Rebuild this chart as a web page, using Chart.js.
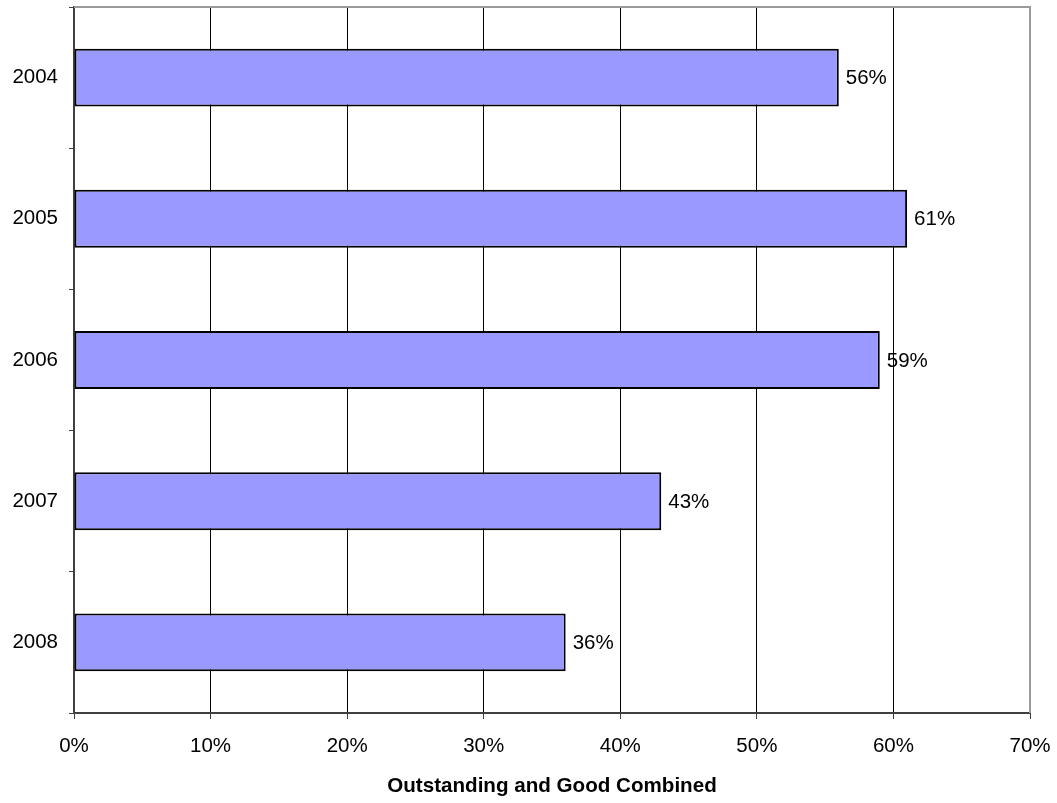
<!DOCTYPE html>
<html>
<head>
<meta charset="utf-8">
<script src="https://cdn.jsdelivr.net/npm/chart.js@4"></script>
<style>
  html, body { margin: 0; padding: 0; background: #fff; }
  #wrap { width: 1057px; height: 803px; position: relative; }
</style>
</head>
<body>
<div id="wrap"><canvas id="c" width="1057" height="803"></canvas></div>
<script>
const categories = ["2004", "2005", "2006", "2007", "2008"];
const values = [56, 61, 59, 43, 36];
const valueLabels = ["56%", "61%", "59%", "43%", "36%"];
const xTicks = [0, 10, 20, 30, 40, 50, 60, 70];
const axisTitle = "Outstanding and Good Combined";

const FONT = "'Liberation Sans', Arial, sans-serif";

const decor = {
  id: 'decor',
  beforeDatasetsDraw(chart) {
    const {ctx, chartArea: a} = chart;
    ctx.save();
    ctx.strokeStyle = '#9a9a9a';
    ctx.lineWidth = 2;
    ctx.beginPath();
    ctx.moveTo(a.left, a.top);
    ctx.lineTo(a.right, a.top);
    ctx.lineTo(a.right, a.bottom);
    ctx.stroke();
    ctx.restore();
  },
  afterDatasetsDraw(chart) {
    const {ctx} = chart;
    const meta = chart.getDatasetMeta(0);
    ctx.save();
    ctx.font = "20.5px " + FONT;
    ctx.fillStyle = '#000';
    ctx.textAlign = 'left';
    ctx.textBaseline = 'middle';
    meta.data.forEach((bar, i) => {
      ctx.fillText(valueLabels[i], bar.x + 7, bar.y + 1);
    });
    ctx.restore();
  }
};

new Chart(document.getElementById('c'), {
  type: 'bar',
  data: {
    labels: categories,
    datasets: [{
      data: values,
      backgroundColor: '#9999ff',
      borderColor: '#000',
      borderWidth: 2,
      borderSkipped: false,
      barPercentage: 0.41,
      categoryPercentage: 1.0
    }]
  },
  plugins: [decor],
  options: {
    indexAxis: 'y',
    responsive: false,
    animation: false,
    devicePixelRatio: 1,
    layout: { padding: { top: 7, right: 27, left: 0, bottom: 0 } },
    plugins: { legend: { display: false }, tooltip: { enabled: false } },
    scales: {
      x: {
        min: 0, max: 70,
        afterBuildTicks(scale) { scale.ticks = xTicks.map(v => ({ value: v })); },
        afterFit(scale) { scale.height = 90; scale.paddingLeft = 0; scale.paddingRight = 0; },
        ticks: {
          callback: v => v + '%',
          color: '#000',
          font: { family: FONT, size: 20.5 },
          padding: 15,
          maxRotation: 0
        },
        grid: { color: '#000', lineWidth: 1, tickLength: 6, tickColor: '#404040' },
        border: { color: '#404040', width: 2 },
        title: {
          display: true,
          text: axisTitle,
          color: '#000',
          font: { family: FONT, size: 20.6, weight: 'bold' },
          padding: { top: 0, bottom: 4 }
        }
      },
      y: {
        afterFit(scale) { scale.width = 74; scale.paddingTop = 0; scale.paddingBottom = 0; },
        ticks: {
          color: '#000',
          font: { family: FONT, size: 20.5 },
          padding: 11
        },
        grid: { offset: true, drawOnChartArea: false, tickLength: 5, color: '#404040', lineWidth: 1 },
        border: { color: '#404040', width: 2 }
      }
    }
  }
});
</script>
</body>
</html>
